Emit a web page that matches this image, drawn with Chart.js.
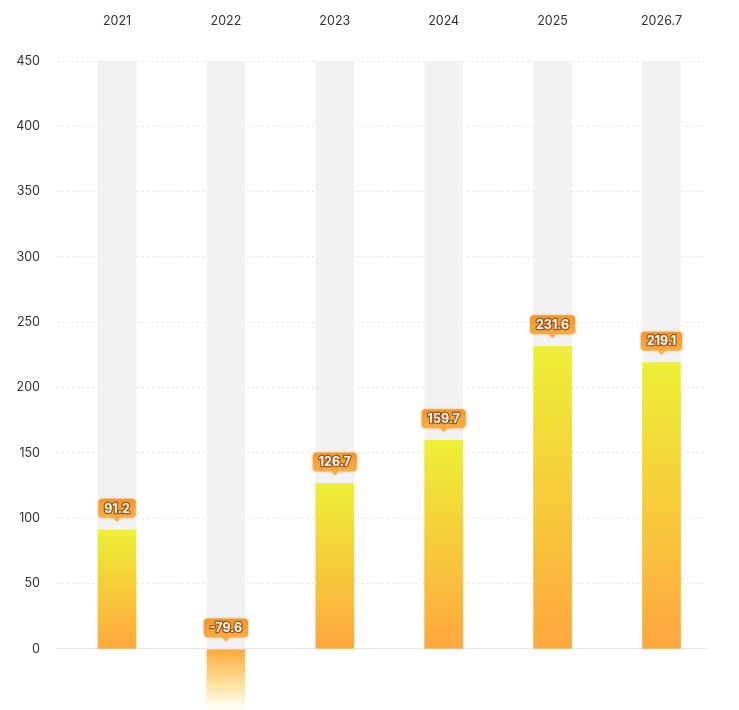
<!DOCTYPE html>
<html>
<head>
<meta charset="utf-8">
<script src="https://cdn.jsdelivr.net/npm/chart.js@4/dist/chart.umd.min.js"></script>
<style>
  html, body { margin: 0; padding: 0; background: #fff; }
  #wrap { width: 739px; height: 710px; }
</style>
</head>
<body>
<div id="wrap"><canvas id="myChart"></canvas></div>
<script>
const categories = ["2021", "2022", "2023", "2024", "2025", "2026.7"];
const values = [91.2, -79.6, 126.7, 159.7, 231.6, 219.1];
const trackValues = [450, 450, 450, 450, 450, 450];
const yTicks = [0, 50, 100, 150, 200, 250, 300, 350, 400, 450];

const FONT = "Inter, 'Liberation Sans', sans-serif";

function barColor(ctx) {
  const chart = ctx.chart;
  const area = chart.chartArea;
  if (!area || !ctx.parsed) return "#FBA83C";
  const y = chart.scales.y;
  const zero = y.getPixelForValue(0);
  const v = ctx.parsed.y;
  const top = y.getPixelForValue(v);
  if (v >= 0) {
    const g = chart.ctx.createLinearGradient(0, top, 0, zero);
    g.addColorStop(0, "#EDF035");
    g.addColorStop(1, "#FFA73F");
    return g;
  }
  // negative bar fades out towards the bottom edge of the chart
  const g = chart.ctx.createLinearGradient(0, zero, 0, area.bottom);
  g.addColorStop(0, "#FFA73F");
  g.addColorStop(0.5, "#FDDB8C");
  g.addColorStop(1, "#FFFFFF");
  return g;
}

function roundRect(c, x, y, w, h, r) {
  c.beginPath();
  c.moveTo(x + r, y);
  c.lineTo(x + w - r, y);
  c.quadraticCurveTo(x + w, y, x + w, y + r);
  c.lineTo(x + w, y + h - r);
  c.quadraticCurveTo(x + w, y + h, x + w - r, y + h);
  c.lineTo(x + r, y + h);
  c.quadraticCurveTo(x, y + h, x, y + h - r);
  c.lineTo(x, y + r);
  c.quadraticCurveTo(x, y, x + r, y);
  c.closePath();
}

const badgePlugin = {
  id: "badges",
  afterDatasetsDraw(chart) {
    const meta = chart.getDatasetMeta(1);
    const c = chart.ctx;
    c.save();
    c.font = "bold 12.5px " + FONT;
    meta.data.forEach((el, i) => {
      const text = String(values[i]);
      const tw = c.measureText(text).width;
      const w = tw + 12;
      const h = 19;
      const tip = Math.min(el.y, el.base) - 8;
      const bottom = tip - 4;
      const left = el.x - w / 2;
      c.shadowColor = "rgba(200,110,20,0.35)";
      c.shadowBlur = 3;
      const g = c.createLinearGradient(0, bottom - h, 0, bottom);
      g.addColorStop(0, "#F2962B");
      g.addColorStop(1, "#FAAE45");
      c.fillStyle = g;
      roundRect(c, left, bottom - h, w, h, 4);
      c.fill();
      c.beginPath();
      c.moveTo(el.x - 4, bottom - 0.5);
      c.lineTo(el.x + 4, bottom - 0.5);
      c.lineTo(el.x, tip);
      c.closePath();
      c.fill();
      c.shadowBlur = 0;
      c.shadowColor = "transparent";
      c.textAlign = "center";
      c.textBaseline = "middle";
      c.lineJoin = "round";
      c.lineWidth = 2.5;
      c.strokeStyle = "rgba(150,70,10,0.85)";
      c.strokeText(text, el.x, bottom - h / 2 + 0.5);
      c.fillStyle = "#FFFFFF";
      c.fillText(text, el.x, bottom - h / 2 + 0.5);
    });
    c.restore();
  }
};

new Chart(document.getElementById("myChart"), {
  type: "bar",
  data: {
    datasets: [
      {
        label: "track",
        data: trackValues.map((v, i) => ({ x: i, y: v })),
        backgroundColor: "#F2F2F2",
        barThickness: 38,
        grouped: false,
        order: 2,
      },
      {
        label: "value",
        data: values.map((v, i) => ({ x: i, y: v })),
        backgroundColor: barColor,
        barThickness: 38,
        grouped: false,
        order: 1,
      },
    ],
  },
  options: {
    responsive: true,
    maintainAspectRatio: false,
    animation: false,
    layout: { padding: { left: 0, right: 32, top: 0, bottom: 0 } },
    plugins: {
      legend: { display: false },
      tooltip: { enabled: false },
    },
    scales: {
      x: {
        type: "linear",
        position: "top",
        offset: false,
        min: -0.551,
        max: 5.418,
        grid: { display: false, drawTicks: false },
        border: { display: false },
        afterBuildTicks: (s) => { s.ticks = categories.map((c, i) => ({ value: i })); },
        afterFit: (s) => { s.height = 61; s.paddingLeft = 0; s.paddingRight = 0; },
        ticks: {
          padding: 32,
          maxRotation: 0,
          color: "#333",
          font: { family: FONT, size: 12.5 },
          callback: (v) => categories[v],
        },
      },
      y: {
        min: -46.7,
        max: 450,
        afterBuildTicks: (s) => { s.ticks = yTicks.map((v) => ({ value: v })); },
        afterFit: (s) => { s.width = 57; s.paddingTop = 0; s.paddingBottom = 0; },
        grid: {
          drawTicks: false,
          color: (ctx) => (ctx.tick && ctx.tick.value === 0 ? "#E6E6E6" : "#E3E3E3"),
          lineWidth: 1,
        },
        border: {
          display: false,
          dash: (ctx) => (ctx.tick && ctx.tick.value === 0 ? [] : [2, 3]),
        },
        ticks: {
          padding: 17,
          color: "#333",
          font: { family: FONT, size: 12.5 },
        },
      },
    },
  },
  plugins: [badgePlugin],
});
</script>
</body>
</html>
